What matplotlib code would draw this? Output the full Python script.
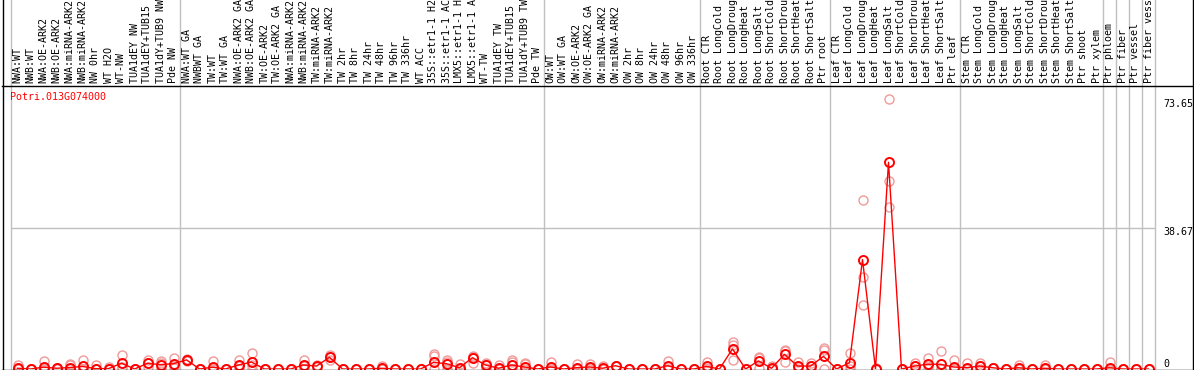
import matplotlib
matplotlib.use("Agg")
import matplotlib.pyplot as plt
from matplotlib.lines import Line2D
import matplotlib.transforms as mtransforms

gene = "Potri.013G074000"

labels = [
    # NW
    "NWA:WT", "NWB:WT", "NWA:OE-ARK2", "NWB:OE-ARK2", "NWA:miRNA-ARK2", "NWB:miRNA-ARK2",
    "NW 0hr", "WT H2O", "WT-NW", "TUA1dEY NW", "TUA1dEY+TUB15 NW", "TUA1dY+TUB9 NW", "Pde NW",
    # TW
    "NWA:WT GA", "NWBWT GA", "TW:WT", "TW:WT GA", "NWA:OE-ARK2 GA", "NWB:OE-ARK2 GA",
    "TW:OE-ARK2", "TW:OE-ARK2 GA", "NWA:miRNA-ARK2", "NWB:miRNA-ARK2", "TW:miRNA-ARK2",
    "TW:miRNA-ARK2", "TW 2hr", "TW 8hr", "TW 24hr", "TW 48hr", "TW 96hr", "TW 336hr",
    "WT ACC", "35S::etr1-1 H2O", "35S::etr1-1 ACC", "LMX5::etr1-1 H2O", "LMX5::etr1-1 ACC",
    "WT-TW", "TUA1dEY TW", "TUA1dEY+TUB15 TW", "TUA1dY+TUB9 TW", "Pde TW",
    # OW
    "OW:WT", "OW:WT GA", "OW:OE-ARK2", "OW:OE-ARK2 GA", "OW:miRNA-ARK2", "OW:miRNA-ARK2",
    "OW 2hr", "OW 8hr", "OW 24hr", "OW 48hr", "OW 96hr", "OW 336hr",
    # Root
    "Root CTR", "Root LongCold", "Root LongDrought", "Root LongHeat", "Root LongSalt",
    "Root ShortCold", "Root ShortDrought", "Root ShortHeat", "Root ShortSalt", "Ptr root",
    # Leaf
    "Leaf CTR", "Leaf LongCold", "Leaf LongDrought", "Leaf LongHeat", "Leaf LongSalt",
    "Leaf ShortCold", "Leaf ShortDrought", "Leaf ShortHeat", "Leaf ShortSalt", "Ptr leaf",
    # Stem
    "Stem CTR", "Stem LongCold", "Stem LongDrought", "Stem LongHeat", "Stem LongSalt",
    "Stem ShortCold", "Stem ShortDrought", "Stem ShortHeat", "Stem ShortSalt", "Ptr shoot",
    "Ptr xylem",
    "Ptr phloem", "Ptr fiber", "Ptr vessel", "Ptr fiber vessel",
]

# group boundaries (index of first sample in each group, plus end)
group_starts = [0, 13, 41, 53, 63, 73, 84, 85, 86, 87, 88]

mean_vals = [
    0.2, 0.0, 0.5, 0.2, 0.4, 0.7, 0.1, 0.1, 1.6, 0.0, 1.55, 1.2, 1.45,
    2.5, 0.0, 0.5, 0.0, 1.1, 1.9, 0.0, 0.0, 0.0, 1.1, 0.8, 3.2, 0.0, 0.0, 0.0, 0.2,
    0.0, 0.0, 0.0, 1.8, 1.45, 0.35, 3.1, 1.1, 0.2, 1.1, 0.55, 0.0,
    0.55, 0.0, 0.35, 0.55, 0.2, 0.9, 0.0, 0.0, 0.0, 0.9, 0.0, 0.0,
    0.7, 0.0, 5.5, 0.0, 2.2, 0.2, 4.0, 0.8, 0.8, 3.45,
    0.0, 1.7, 29.9, 0.0, 56.5, 0.0, 0.8, 1.3, 1.3, 0.55,
    0.35, 0.8, 0.35, 0.0, 0.35, 0.0, 0.2, 0.0, 0.0, 0.0, 0.0,
    0.35, 0.0, 0.0, 0.0,
]

rep_a = [
    1.1, 0.0, 2.2, 0.4, 1.3, 2.4, 1.0, 0.5, 3.8, 0.0, 2.4, 2.2, 2.9,
    2.7, 0.0, 2.2, 0.0, 2.5, 4.4, 0.0, 0.0, 0.0, 2.5, 1.0, 3.8, 0.0, 0.0, 0.0, 0.7,
    0.0, 0.0, 0.0, 4.0, 2.4, 1.45, 3.5, 1.6, 1.1, 2.4, 1.6, 0.0,
    1.8, 0.0, 1.3, 1.3, 0.7, 0.9, 0.0, 0.0, 0.0, 2.2, 0.0, 0.0,
    1.8, 0.0, 7.3, 0.0, 3.3, 0.7, 5.2, 1.9, 1.6, 5.8,
    0.0, 4.45, 46.3, 0.3, 73.65, 0.0, 1.7, 2.9, 4.8, 2.4,
    1.7, 1.7, 0.35, 0.0, 1.1, 0.0, 1.1, 0.0, 0.0, 0.0, 0.0,
    1.8, 0.0, 0.0, 0.0,
]

rep_b = [
    0.0, 0.0, 0.0, 0.2, 1.0, 0.0, 0.0, 0.0, 0.5, 0.0, 1.7, 1.6, 1.2,
    2.4, 0.0, 0.0, 0.0, 0.8, 1.2, 0.0, 0.0, 0.0, 0.8, 0.8, 3.4, 0.0, 0.0, 0.0, 0.0,
    0.0, 0.0, 0.0, 3.5, 1.9, 0.0, 3.3, 1.3, 0.0, 1.9, 1.4, 0.0,
    0.0, 0.0, 0.0, 0.4, 0.0, 0.9, 0.0, 0.0, 0.0, 0.5, 0.0, 0.0,
    0.3, 0.0, 6.6, 0.0, 3.0, 0.0, 4.9, 0.5, 0.8, 5.1,
    0.0, 0.7, 25.2, 0.0, 51.3, 0.0, 0.7, 1.0, 0.0, 0.0,
    0.0, 0.7, 0.35, 0.0, 0.0, 0.0, 0.0, 0.0, 0.0, 0.0, 0.0,
    0.0, 0.0, 0.0, 0.0,
]

rep_c = [
    0.0, 0.0, 0.0, 0.0, 0.0, 0.0, 0.0, 0.0, 0.3, 0.0, 0.5, 0.0, 0.2,
    2.3, 0.0, 0.0, 0.0, 0.0, 0.0, 0.0, 0.0, 0.0, 0.0, 0.6, 2.4, 0.0, 0.0, 0.0, 0.0,
    0.0, 0.0, 0.0, 0.0, 0.0, 0.0, 1.6, 0.4, 0.0, 0.0, 0.0, 0.0,
    0.0, 0.0, 0.0, 0.0, 0.0, 0.9, 0.0, 0.0, 0.0, 0.0, 0.0, 0.0,
    0.0, 0.0, 2.5, 0.0, 0.3, 0.0, 1.9, 0.0, 0.0, 0.0,
    0.0, 0.0, 17.6, 0.0, 44.3, 0.0, 0.0, 0.0, 0.0, 0.0,
    0.0, 0.0, 0.35, 0.0, 0.0, 0.0, 0.0, 0.0, 0.0, 0.0, 0.0,
    0.0, 0.0, 0.0, 0.0,
]

ymax_val = 73.65
y_labels = ["73.65", "38.67", "0"]
y_label_vals = [73.65, 38.67, 0.0]

W, H = 1194, 370
mono = "DejaVu Sans Mono"
fs = 7.2

fig = plt.figure(figsize=(W / 100, H / 100), dpi=100)
fig.patch.set_facecolor("white")
ax = fig.add_axes([11 / W, 1 - 369 / H, 1144 / W, 283 / H])
ax.set_facecolor("white")
n = len(labels)
x = list(range(n))
ax.set_xlim(-0.5, n - 0.5)
ax.set_ylim(0, ymax_val * 1.05)
for s in ax.spines.values():
    s.set_visible(False)
ax.set_yticks([])
ax.set_xticks(x)
ax.set_xticklabels(labels, rotation=90, fontsize=fs, family=mono)
ax.tick_params(axis="x", top=True, bottom=False, labeltop=True, labelbottom=False,
               length=0, pad=2)

# grid / separators
top_ext = 369 / 283
for b in group_starts:
    ax.axvline(b - 0.5, ymin=0, ymax=top_ext, color="#c0c0c0", lw=1, clip_on=False, zorder=0)
ax.axhline(ymax_val * 1.05 / 2, color="#c0c0c0", lw=1, zorder=0)

# replicates
for rep in (rep_c, rep_b, rep_a):
    ax.plot(x, rep, "o", mfc="none", mec="#f09a9a", ms=6.5, mew=1.0, zorder=2)
# mean line
ax.plot(x, mean_vals, "-", color="red", lw=1, zorder=3)
ax.plot(x, mean_vals, "o", mfc="none", mec="red", ms=6.5, mew=1.4, zorder=4)

# frame lines
for (x0, y0, x1, y1) in [(2.5, 0, 2.5, 370), (1192.5, 0, 1192.5, 370),
                         (2, 85.5, 1193, 85.5), (2, 369.5, 1193, 369.5)]:
    fig.add_artist(Line2D([x0 / W, x1 / W], [1 - y0 / H, 1 - y1 / H], color="black",
                          lw=1, transform=fig.transFigure))

trans = mtransforms.blended_transform_factory(fig.transFigure, ax.transData)
for lab, v in zip(y_labels, y_label_vals):
    ax.text(1163 / W, v, lab, transform=trans, ha="left",
            va="top" if v > 0 else "bottom", fontsize=fs, family=mono, clip_on=False)

fig.text(10 / W, 1 - 97 / H, gene, color="red", fontsize=fs, family=mono,
         ha="left", va="center")

fig.savefig("out.png", dpi=100, facecolor="white")
